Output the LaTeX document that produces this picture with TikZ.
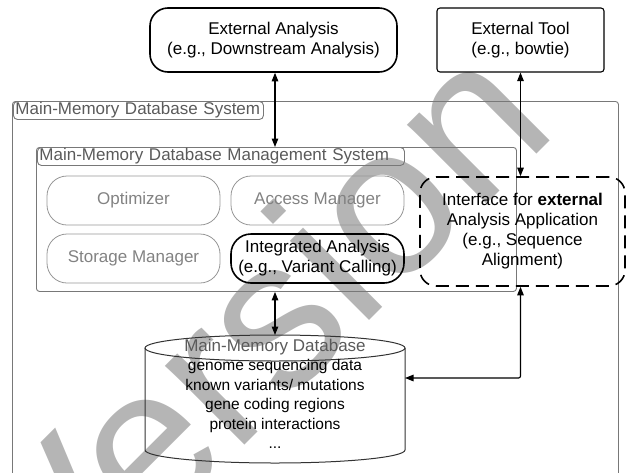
\documentclass[tikz,border=0pt]{standalone}
\usepackage{fontspec}
\setmainfont{Liberation Sans}
\usetikzlibrary{arrows.meta}
\definecolor{wm}{RGB}{181,181,181}
\definecolor{frame}{RGB}{120,120,120}
\definecolor{modline}{RGB}{150,150,150}
\definecolor{modtext}{RGB}{130,130,130}
\definecolor{labtext}{RGB}{90,90,90}
\begin{document}
\begin{tikzpicture}[x=1pt,y=-1pt,
  every node/.style={font=\fontsize{17}{20}\selectfont, inner sep=0pt, align=center},
  blackbox/.style={draw=black, line width=1.6pt, rounded corners=18pt},
  toolbox/.style={draw=black, line width=1.1pt, rounded corners=3pt},
  framebox/.style={draw=frame, line width=0.9pt, rounded corners=3pt},
  labelbox/.style={draw=frame, line width=0.9pt, rounded corners=4pt, text=labtext, anchor=north west, minimum height=18pt, inner xsep=2pt, align=left},
  module/.style={draw=modline, line width=0.8pt, rounded corners=20pt, text=modtext, minimum width=173pt, minimum height=49pt},
  dashbox/.style={draw=black, line width=1.6pt, dash pattern=on 13pt off 7pt, rounded corners=16pt, minimum width=205pt, minimum height=109pt},
  arr/.style={{Triangle[length=8.5pt,width=6.5pt]}-{Triangle[length=8.5pt,width=6.5pt]}, line width=1.2pt},
  cylline/.style={draw=black!80, line width=1pt},
]
\useasboundingbox (0,0) rectangle (632,472);
\node[text=wm, font=\fontsize{212}{212}\selectfont, rotate=45] (wmk) at (256,327) {Version};

\node[blackbox, minimum width=247pt, minimum height=64pt] (ea) at (273.5,40) {External Analysis\\(e.g., Downstream Analysis)};
\node[toolbox, minimum width=167pt, minimum height=64pt] (et) at (520.5,40) {External Tool\\(e.g., bowtie)};

\node[framebox, minimum width=606pt, minimum height=380pt, anchor=north west] (mmds) at (12,101) {};
\node[labelbox, text width=246pt] (mmdslab) at (13,101) {Main-Memory Database System};
\node[framebox, minimum width=480pt, minimum height=144pt, anchor=north west] (dbms) at (36,147) {};
\node[labelbox, text width=363pt] (dbmslab) at (37,147) {Main-Memory Database Management System};

\node[module] (opt) at (133.5,200.5) {Optimizer};
\node[module] (acc) at (317.5,200.5) {Access Manager};
\node[module] (sto) at (133.5,258.5) {Storage Manager};
\node[module, draw=black, text=black, line width=1.6pt] (ia) at (317.5,258.5) {Integrated Analysis\\(e.g., Variant Calling)};

\node[dashbox] (ifc) at (522.5,231.5) {Interface for \textbf{external}\\Analysis Application\\(e.g., Sequence\\Alignment)};

\draw[cylline] (145,348) -- (145,450) arc[start angle=180, end angle=0, x radius=130, y radius=13] -- (405,348);
\draw[cylline] (275,348) ellipse [x radius=130, y radius=13];
\coordinate (cyltop) at (275,335);
\coordinate (cylright) at (405,378);
\node[font=\fontsize{15.5}{19.5}\selectfont] (dbtext) at (275,394) {{\fontsize{17}{19.5}\selectfont\textcolor{labtext}{Main-Memory Database}}\\genome sequencing data\\known variants/ mutations\\gene coding regions\\protein interactions\\...};

\draw[arr] (ea.south -| cyltop) -- (dbms.north -| cyltop);
\draw[arr] (dbms.south -| cyltop) -- (cyltop);
\draw[arr] (et.south) -- (et.south |- ifc.north);
\draw[arr, rounded corners=2pt] (ifc.south -| et.south) |- (cylright);
\end{tikzpicture}
\end{document}
